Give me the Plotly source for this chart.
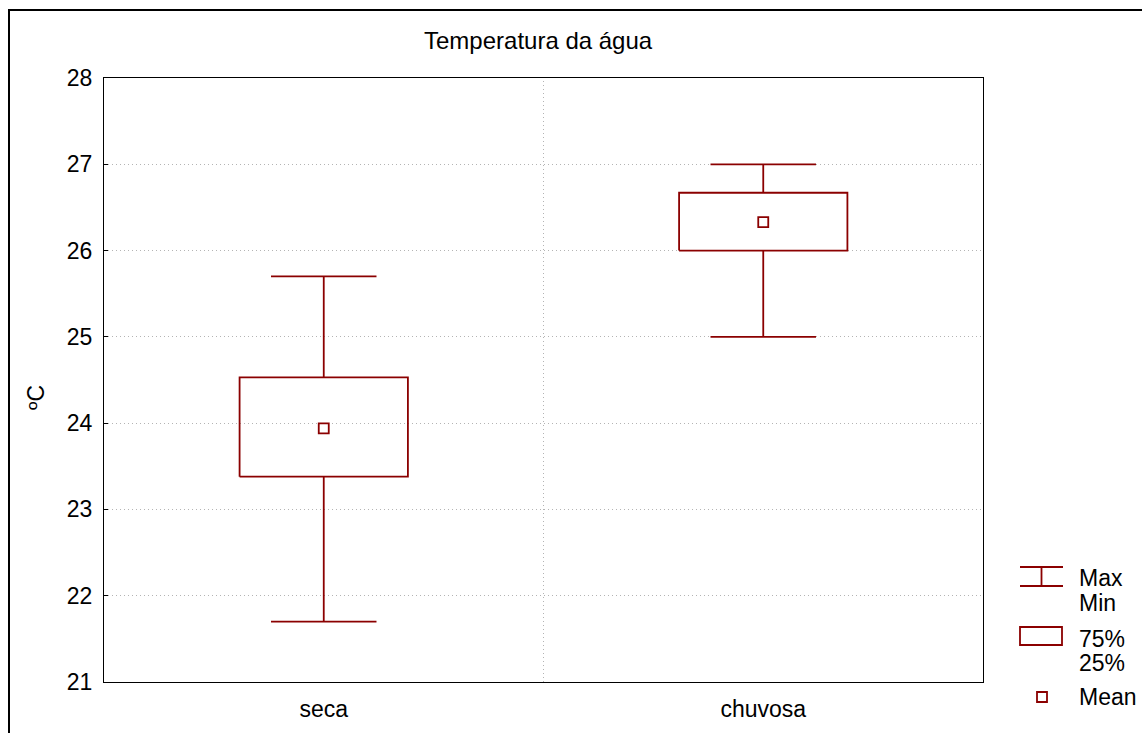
import plotly.graph_objects as go

categories = ["seca", "chuvosa"]
vmax = [25.7, 27.0]
vmin = [21.7, 25.0]
q75 = [24.53, 26.67]
q25 = [23.38, 26.0]
means = [23.94, 26.33]
y_ticks = [21, 22, 23, 24, 25, 26, 27, 28]

RED = "#8B0000"
FONT = "Liberation Sans, Arial, sans-serif"
FS = 23
W, H = 1142, 733
ML, MR, MT, MB = 104, 159, 78, 51
PW = W - ML - MR
PH = H - MT - MB
BOXW = 0.383
CAPW = 0.24
LW = 1.8
GRID = "#b4b4b4"
DOT = "1px,3px"

def px2x(px):
    return (px - ML) / PW

def px2y(py):
    return (H - MB - py) / PH

xs = list(range(len(categories)))
fig = go.Figure()

# boxes (25%-75%)
bx, by = [], []
for i in xs:
    x0, x1 = i - BOXW / 2, i + BOXW / 2
    bx += [x0, x1, x1, x0, x0, None]
    by += [q25[i], q25[i], q75[i], q75[i], q25[i], None]
fig.add_trace(go.Scatter(x=bx, y=by, mode="lines", line=dict(color=RED, width=LW),
                         showlegend=False, hoverinfo="skip"))

# whiskers (min-max)
wx, wy = [], []
for i in xs:
    wx += [i, i, None, i, i, None]
    wy += [q75[i], vmax[i], None, q25[i], vmin[i], None]
    wx += [i - CAPW / 2, i + CAPW / 2, None, i - CAPW / 2, i + CAPW / 2, None]
    wy += [vmax[i], vmax[i], None, vmin[i], vmin[i], None]
fig.add_trace(go.Scatter(x=wx, y=wy, mode="lines", line=dict(color=RED, width=LW),
                         showlegend=False, hoverinfo="skip"))

fig.add_trace(go.Scatter(
    x=xs, y=means, mode="markers",
    marker=dict(symbol="square-open", size=10, color=RED, line=dict(width=LW, color=RED)),
    showlegend=False, hoverinfo="skip",
))

shapes = []
# vertical grid between categories
for k in range(len(xs) - 1):
    shapes.append(dict(type="line", xref="x", yref="paper", x0=(xs[k] + xs[k+1]) / 2,
                       x1=(xs[k] + xs[k+1]) / 2, y0=0, y1=1,
                       line=dict(color=GRID, width=1, dash=DOT), layer="below"))
# outer frame (top & left)
shapes.append(dict(type="line", xref="paper", yref="paper", x0=px2x(8), x1=px2x(1150),
                   y0=px2y(10), y1=px2y(10), line=dict(color="black", width=2)))
shapes.append(dict(type="line", xref="paper", yref="paper", x0=px2x(9), x1=px2x(9),
                   y0=px2y(10), y1=px2y(740), line=dict(color="black", width=2)))
# legend: whisker symbol
shapes.append(dict(type="line", xref="paper", yref="paper", x0=px2x(1020), x1=px2x(1063),
                   y0=px2y(567), y1=px2y(567), line=dict(color=RED, width=LW)))
shapes.append(dict(type="line", xref="paper", yref="paper", x0=px2x(1020), x1=px2x(1063),
                   y0=px2y(586), y1=px2y(586), line=dict(color=RED, width=LW)))
shapes.append(dict(type="line", xref="paper", yref="paper", x0=px2x(1041.5), x1=px2x(1041.5),
                   y0=px2y(567), y1=px2y(586), line=dict(color=RED, width=LW)))
# legend: box symbol
shapes.append(dict(type="rect", xref="paper", yref="paper", x0=px2x(1020), x1=px2x(1062),
                   y0=px2y(627), y1=px2y(645), line=dict(color=RED, width=LW)))
# legend: mean symbol
shapes.append(dict(type="rect", xref="paper", yref="paper", x0=px2x(1037), x1=px2x(1047),
                   y0=px2y(692), y1=px2y(702), line=dict(color=RED, width=LW)))

annotations = [
    dict(text="Temperatura da água", xref="paper", yref="paper", x=px2x(538), y=px2y(40),
         xanchor="center", yanchor="middle", showarrow=False, font=dict(size=24)),
    dict(text="ºC", xref="paper", yref="paper", x=px2x(36), y=px2y(398), textangle=-90,
         xanchor="center", yanchor="middle", showarrow=False, font=dict(size=FS)),
]
for txt, py in [("Max", 578), ("Min", 603), ("75%", 639), ("25%", 663), ("Mean", 697)]:
    annotations.append(dict(text=txt, xref="paper", yref="paper", x=px2x(1077), y=px2y(py),
                            xanchor="left", yanchor="middle", showarrow=False,
                            font=dict(size=FS)))

fig.update_layout(
    width=W, height=H,
    margin=dict(l=ML, r=MR, t=MT, b=MB, autoexpand=False),
    paper_bgcolor="white", plot_bgcolor="white",
    font=dict(family=FONT, size=FS, color="black"),
    shapes=shapes, annotations=annotations,
    showlegend=False,
)
fig.update_xaxes(
    range=[-0.5, len(categories) - 0.5], tickvals=xs, ticktext=categories,
    showgrid=False, zeroline=False, showline=True, mirror=True,
    linecolor="black", linewidth=1, ticks="", ticklabelstandoff=6, automargin=False,
)
fig.update_yaxes(
    range=[y_ticks[0], y_ticks[-1]], tickvals=y_ticks,
    showgrid=True, gridcolor=GRID, griddash=DOT, gridwidth=1,
    zeroline=False, showline=True, mirror=True, linecolor="black", linewidth=1,
    ticks="inside", ticklen=4, tickcolor="black", ticklabelstandoff=6, automargin=False,
)

fig.write_html("out.html")
